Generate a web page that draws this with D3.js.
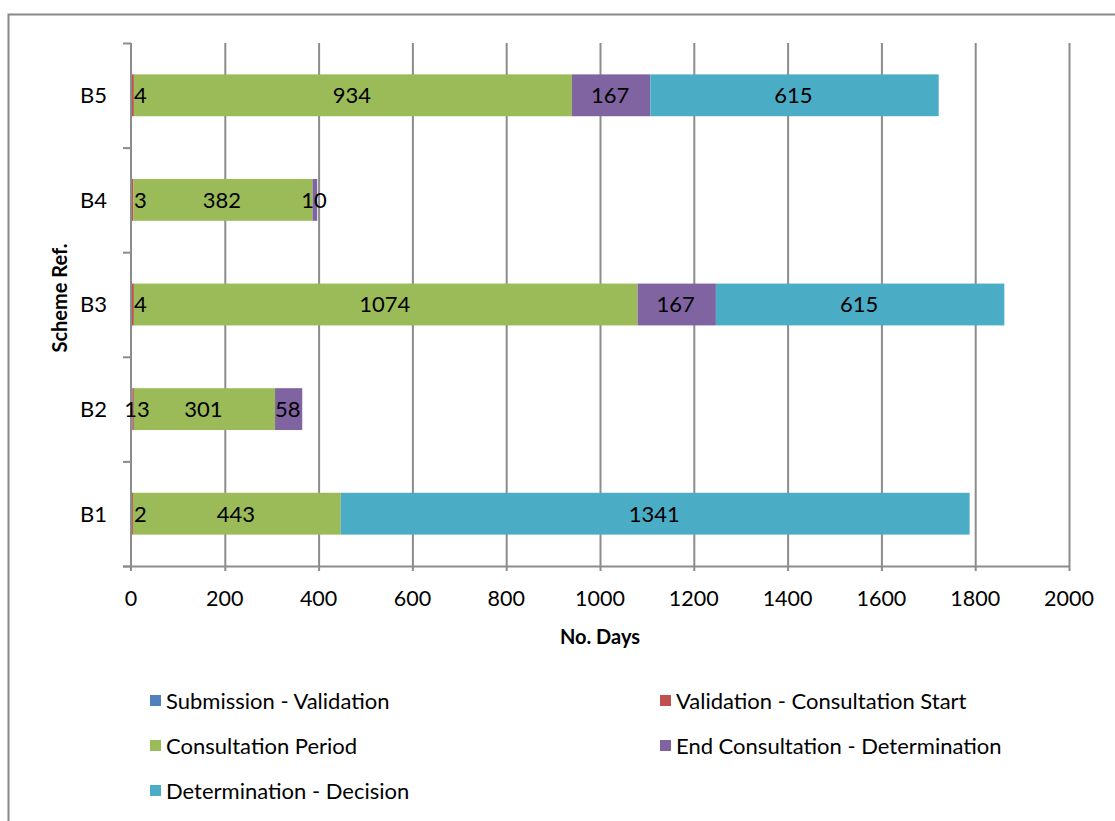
<!DOCTYPE html>
<html>
<head>
<meta charset="utf-8">
<script src="https://cdn.jsdelivr.net/npm/d3@7"></script>
<style>
  body { margin: 0; background: #fff; }
  svg text { font-family: Lato, "Open Sans", sans-serif; fill: #000; }
</style>
</head>
<body>
<svg id="chart" width="1115" height="821"></svg>
<script>
// data
const schemes = ['B1', 'B2', 'B3', 'B4', 'B5'];
const seriesNames = [
    'Submission - Validation',
    'Validation - Consultation Start',
    'Consultation Period',
    'End Consultation - Determination',
    'Determination - Decision'
];
const submissionValidation = [0, 1, 0, 0, 0];
const validationStart = [2, 3, 4, 3, 4];
const consultationPeriod = [443, 301, 1074, 382, 934];
const endConsultation = [0, 58, 167, 10, 167];
const determinationDecision = [1341, 0, 615, 0, 615];
const xTicks = [0, 200, 400, 600, 800, 1000, 1200, 1400, 1600, 1800, 2000];
const colors = ['#4F81BD', '#C0504D', '#9BBB59', '#8064A2', '#4BACC6'];

const allSeries = [submissionValidation, validationStart, consultationPeriod, endConsultation, determinationDecision];

const svg = d3.select('#chart');

// outer frame
svg.append('rect')
    .attr('x', 8.5).attr('y', 14.5)
    .attr('width', 1200).attr('height', 900)
    .attr('fill', 'none').attr('stroke', '#878787').attr('stroke-width', 2);

const plot = { left: 131, right: 1069, top: 43, bottom: 566 };

const x = d3.scaleLinear().domain([0, 2000]).range([plot.left, plot.right]);
const y = d3.scaleBand().domain(schemes.slice().reverse())
    .range([plot.top, plot.bottom]).paddingInner(0.6).paddingOuter(0.3);
const yBand = d3.scaleBand().domain(schemes.slice().reverse())
    .range([plot.top, plot.bottom]);

const axisColor = '#8c8c8c';

// gridlines
svg.append('g').selectAll('line').data(xTicks.slice(1)).join('line')
    .attr('x1', d => x(d) + 0.5).attr('x2', d => x(d) + 0.5)
    .attr('y1', plot.top).attr('y2', plot.bottom + 5)
    .attr('stroke', axisColor).attr('stroke-width', 2);

// axis lines (bars are drawn over them)
svg.append('line')
    .attr('x1', plot.left).attr('x2', plot.left)
    .attr('y1', plot.top).attr('y2', plot.bottom + 5)
    .attr('stroke', axisColor).attr('stroke-width', 2);
svg.append('line')
    .attr('x1', plot.left - 8).attr('x2', plot.right + 1)
    .attr('y1', plot.bottom + 0.5).attr('y2', plot.bottom + 0.5)
    .attr('stroke', axisColor).attr('stroke-width', 2);

// y ticks at band edges
const edges = schemes.map(s => yBand(s)).concat([plot.bottom]);
svg.append('g').selectAll('line').data(edges).join('line')
    .attr('x1', plot.left - 8).attr('x2', plot.left)
    .attr('y1', d => d + 0.5).attr('y2', d => d + 0.5)
    .attr('stroke', axisColor).attr('stroke-width', 2);

// stacked data
const rows = schemes.map((s, i) => {
    const r = { scheme: s };
    seriesNames.forEach((n, k) => r[n] = allSeries[k][i]);
    return r;
});
const stacked = d3.stack().keys(seriesNames)(rows);

const layers = svg.append('g').selectAll('g').data(stacked).join('g')
    .attr('fill', (d, i) => colors[i]);

layers.selectAll('rect').data(d => d).join('rect')
    .attr('x', d => x(d[0]) + 1)
    .attr('y', d => y(d.data.scheme))
    .attr('width', d => x(d[1]) - x(d[0]))
    .attr('height', y.bandwidth());

// data labels
stacked.forEach((layer, k) => {
    const g = svg.append('g').selectAll('text')
        .data(layer.filter(d => d[1] - d[0] > 0))
        .join('text')
        .attr('y', d => y(d.data.scheme) + y.bandwidth() / 2)
        .attr('dy', '0.36em')
        .attr('font-size', 22)
        .text(d => d[1] - d[0]);
    if (k === 0) {
        // tiny first segment: label ends just right of the axis
        g.attr('x', plot.left + 6).attr('text-anchor', 'end');
    } else if (k === 1) {
        // tiny segment: label kept inside the plot area
        g.attr('x', d => plot.left + (d[0] > 0 ? 6 : 3)).attr('text-anchor', 'start');
    } else {
        g.attr('x', d => x((d[0] + d[1]) / 2)).attr('text-anchor', 'middle');
    }
});

// x tick labels
svg.append('g').selectAll('text').data(xTicks).join('text')
    .attr('x', d => x(d))
    .attr('y', 606)
    .attr('text-anchor', 'middle')
    .attr('font-size', 21.5)
    .text(d => d);

// y tick labels
svg.append('g').selectAll('text').data(schemes).join('text')
    .attr('x', 107)
    .attr('y', d => yBand(d) + yBand.bandwidth() / 2)
    .attr('dy', '0.36em')
    .attr('text-anchor', 'end')
    .attr('font-size', 22)
    .text(d => d);

// axis titles
svg.append('text')
    .attr('x', 600).attr('y', 644)
    .attr('text-anchor', 'middle')
    .attr('font-size', 20).attr('font-weight', 'bold')
    .text('No. Days');
svg.append('text')
    .attr('transform', 'translate(67,298) rotate(-90)')
    .attr('text-anchor', 'middle')
    .attr('font-size', 20).attr('font-weight', 'bold')
    .text('Scheme Ref.');

// legend
const legendPos = [[150, 701], [660, 701], [150, 746], [660, 746], [150, 791]];
const legend = svg.append('g').selectAll('g').data(seriesNames).join('g')
    .attr('transform', (d, i) => `translate(${legendPos[i][0]},${legendPos[i][1]})`);
legend.append('rect')
    .attr('x', 0).attr('y', -6).attr('width', 11).attr('height', 11)
    .attr('fill', (d, i) => colors[i]);
legend.append('text')
    .attr('x', 16).attr('y', 0).attr('dy', '0.36em')
    .attr('font-size', 22)
    .text(d => d);
</script>
</body>
</html>
